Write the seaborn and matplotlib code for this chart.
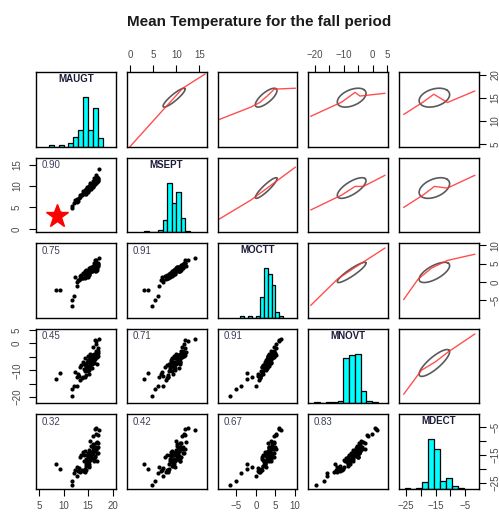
import numpy as np
import pandas as pd
import seaborn as sns
import matplotlib.pyplot as plt

variables = ['MAUGT', 'MSEPT', 'MOCTT', 'MNOVT', 'MDECT']

# monthly mean temperatures (one value per year)
maugt = [14.2, 14.5, 14.8, 15.1, 15.4, 15.8, 16.1, 16.4, 16.7, 16.9,
         13.6, 13.9, 14.0, 14.3, 14.6, 14.7, 14.9, 15.0, 15.2, 15.3,
         15.5, 15.6, 15.7, 15.9, 16.0, 16.2, 16.3, 16.5, 16.6, 16.8,
         17.0, 14.4, 14.1, 13.8, 13.4, 13.1, 12.8, 14.6, 14.8, 15.0,
         15.1, 15.2, 15.4, 15.5, 15.6, 15.8, 16.0, 16.1, 16.3, 16.4,
         16.6, 16.7, 16.9, 17.1, 14.3, 14.5, 14.9, 15.3, 15.7, 15.9,
         16.2, 16.5, 15.1, 14.7, 15.6, 16.0, 13.3, 12.9, 16.8, 16.2,
         16.6, 15.4, 15.9, 8.4, 9.3, 11.8, 12.1, 11.7, 12.7, 12.3,
         17.3, 16.4]
msept = [8.6, 9.0, 9.3, 9.7, 10.0, 10.4, 10.8, 11.0, 11.3, 11.5,
         8.0, 8.3, 8.9, 8.4, 9.4, 8.8, 9.1, 9.5, 9.2, 10.2,
         9.6, 10.3, 9.9, 10.6, 10.1, 10.9, 10.5, 11.2, 10.7, 11.4,
         11.1, 8.2, 8.7, 7.9, 7.5, 7.2, 7.0, 8.5, 9.8, 8.9,
         10.0, 9.6, 9.3, 10.4, 9.4, 10.0, 10.8, 10.2, 11.0, 10.6,
         11.6, 10.9, 11.9, 11.7, 9.1, 8.1, 8.7, 9.9, 10.5, 9.8,
         10.4, 11.5, 9.4, 9.2, 10.1, 10.6, 7.8, 6.6, 12.2, 11.8,
         12.5, 10.7, 11.2, 3.0, 3.8, 4.8, 6.0, 5.3, 6.2, 6.8,
         14.0, 11.8]
moctt = [2.4, 1.7, 2.8, 2.6, 3.9, 3.4, 3.4, 4.5, 3.7, 4.8,
         1.9, 1.1, 2.4, 1.4, 3.3, 2.0, 1.9, 3.1, 1.8, 3.7,
         3.3, 2.9, 3.3, 3.4, 4.0, 3.9, 3.1, 4.7, 3.1, 4.7,
         4.7, 1.0, 2.2, 1.0, 1.6, 0.6, 0.0, 2.2, 2.3, 2.5,
         3.7, 2.2, 2.8, 3.2, 3.3, 3.1, 3.4, 3.8, 3.4, 4.0,
         5.1, 3.4, 5.1, 4.4, 3.1, 1.4, 1.5, 3.5, 2.9, 3.3,
         4.0, 3.9, 2.8, 2.2, 4.0, 3.6, 0.7, 0.5, 4.5, 5.1,
         5.9, 3.2, 4.5, -2.3, -2.2, -6.5, -3.9, -5.0, -1.0, 1.5,
         6.5, 6.0]
mnovt = [-9.6, -8.4, -7.1, -9.9, -3.9, -6.7, -4.0, -5.1, -5.1, -3.7,
         -8.2, -12.6, -6.8, -10.3, -8.3, -8.3, -10.1, -4.7, -11.3, -5.1,
         -7.1, -5.9, -7.5, -4.5, -4.3, -6.9, -5.8, -3.7, -4.7, -4.6,
         -2.8, -12.4, -7.5, -12.8, -8.6, -12.1, -15.9, -7.8, -9.2, -6.1,
         -6.9, -8.5, -8.3, -5.2, -7.5, -5.2, -5.7, -7.2, -5.1, -5.3,
         -0.1, -7.6, -1.9, -4.6, -5.5, -11.9, -8.9, -5.5, -9.2, -5.3,
         -5.3, -2.8, -9.0, -8.5, -5.5, -4.3, -13.5, -11.2, -3.2, -4.2,
         0.7, -7.1, -1.5, -13.1, -11.0, -19.7, -16.0, -17.0, -12.5, -10.5,
         1.5, 1.1]
mdect = [-17.0, -18.9, -15.0, -19.5, -9.9, -16.4, -12.0, -15.8, -12.4, -12.2,
         -15.1, -20.8, -13.9, -19.9, -16.3, -17.7, -16.7, -14.2, -19.1, -15.8,
         -14.6, -14.6, -14.4, -13.4, -11.1, -17.3, -13.6, -12.7, -10.8, -14.1,
         -10.7, -21.0, -15.1, -20.4, -15.6, -19.8, -22.6, -18.3, -17.3, -15.3,
         -13.2, -18.4, -16.7, -15.9, -15.1, -13.8, -12.4, -16.3, -12.0, -15.5,
         -7.3, -17.0, -7.7, -14.1, -13.7, -20.6, -16.6, -14.2, -16.2, -14.2,
         -12.2, -12.8, -17.1, -18.0, -11.7, -13.7, -21.2, -20.9, -10.3, -12.7,
         -5.3, -16.2, -8.1, -18.2, -20.0, -25.8, -21.6, -24.5, -19.4, -20.3,
         -6.0, -5.5]

temps = pd.DataFrame({'MAUGT': maugt, 'MSEPT': msept, 'MOCTT': moctt,
                      'MNOVT': mnovt, 'MDECT': mdect})

# histogram bins / counts
hist_edges = {
    'MAUGT': [7, 8, 9, 10, 11, 12, 13, 14, 15, 16, 17, 18],
    'MSEPT': [3, 4, 5, 6, 7, 8, 9, 10, 11, 12, 13],
    'MOCTT': [-4, -3, -2, -1, 0, 1, 2, 3, 4, 5, 6, 7],
    'MNOVT': [-20.2, -18.2, -16.2, -14.2, -12.2, -10.2, -8.2, -6.2, -4.2, -2.2, -0.2, 1.8],
    'MDECT': [-25.5, -23.5, -21.5, -19.5, -17.5, -15.5, -13.5, -11.5, -9.5, -7.5, -5.5],
}
hist_counts = {
    'MAUGT': [1, 0, 1, 0, 3, 7, 12, 36, 12, 28, 6],
    'MSEPT': [1, 0, 0, 2, 9, 36, 21, 29, 10, 1],
    'MOCTT': [1, 0, 1, 0, 1, 15, 36, 32, 24, 4, 1],
    'MNOVT': [1, 0, 1, 1, 2, 33, 35, 36, 9, 2, 1],
    'MDECT': [1, 0, 1, 5, 36, 29, 6, 8, 2, 1],
}

# correlations printed in the lower panels
corr_values = {(1, 0): 0.90, (2, 0): 0.75, (2, 1): 0.91,
               (3, 0): 0.45, (3, 1): 0.71, (3, 2): 0.91,
               (4, 0): 0.32, (4, 1): 0.42, (4, 2): 0.67, (4, 3): 0.83}

# smoothed fit lines in the upper panels (x = column var, y = row var)
smooth_lines = {
    (0, 1): ([-0.2, 7.4, 9.5, 11.4, 16.3], [4.3, 12.7, 15.0, 17.1, 20.2]),
    (0, 2): ([-9.7, -1.3, 1.0, 3.0, 4.7, 10.1], [10.2, 13.0, 14.0, 15.5, 16.9, 17.1]),
    (0, 3): ([-21.5, -10.7, -6.1, -4.4, 4.3], [11.0, 14.1, 16.2, 15.4, 16.0]),
    (0, 4): ([-25.8, -19.2, -15.6, -11.0, -1.7], [11.4, 14.1, 15.8, 14.0, 16.5]),
    (1, 2): ([-9.7, -1.3, 3.0, 10.1], [2.1, 6.7, 9.6, 14.4]),
    (1, 3): ([-21.5, -10.7, -6.1, -3.2, 4.3], [4.4, 7.9, 9.9, 9.9, 12.5]),
    (1, 4): ([-25.8, -19.2, -15.4, -11.0, -1.7], [5.0, 7.9, 9.9, 9.5, 12.5]),
    (2, 3): ([-21.5, -12.2, -6.5, 4.3], [-6.4, 0.8, 3.8, 9.3]),
    (2, 4): ([-25.8, -20.9, -16.4, -11.0, -1.7], [-4.8, 0.8, 3.8, 5.9, 7.6]),
    (3, 4): ([-25.8, -19.8, -15.0, -10.5, -1.7], [-18.9, -10.0, -6.8, -3.0, 3.5]),
}

limits = {'MAUGT': (4.4, 20.6), 'MSEPT': (-0.8, 16.6), 'MOCTT': (-9.8, 10.6),
          'MNOVT': (-22.3, 5.4), 'MDECT': (-27.3, -0.3)}

M = '\u2212'
axis_ticks = {
    'MAUGT': ([5, 10, 15, 20], ['5', '10', '15', '20']),
    'MSEPT': ([0, 5, 10, 15], ['0', '5', '10', '15']),
    'MOCTT': ([-5, 0, 5, 10], [M + '5', '0', '5', '10']),
    'MNOVT': ([-20, -15, -10, -5, 0, 5], [M + '20', '', M + '10', '', '0', '5']),
    'MDECT': ([-25, -20, -15, -10, -5], [M + '25', '', M + '15', '', M + '5']),
}

star_point = (8.6, 3.0)

sns.set_theme(style='white')
plt.rcParams['font.family'] = ['Liberation Sans', 'DejaVu Sans']

tick_color = '#4a4a4a'


def ellipse(x, y, r, k=1.25):
    # correlation ellipse around the means, r taken from the panel label
    x = np.asarray(x)
    y = np.asarray(y)
    d = np.arccos(r)
    th = np.linspace(0, 2 * np.pi, 120)
    ex = x.mean() + k * x.std(ddof=1) * np.cos(th + d / 2)
    ey = y.mean() + k * y.std(ddof=1) * np.cos(th - d / 2)
    return ex, ey


def style_ticks(axis_obj, var, rotate=False):
    ticks, labels = axis_ticks[var]
    axis_obj.set_ticks(ticks)
    axis_obj.set_ticklabels(labels)
    for lab in axis_obj.get_ticklabels():
        lab.set_fontsize(7)
        lab.set_color(tick_color)
        if rotate:
            lab.set_rotation(90)
            lab.set_va('center')


fig, axes = plt.subplots(5, 5, figsize=(4.99, 5.15), dpi=100)
fig.subplots_adjust(left=0.072, right=0.960, top=0.860, bottom=0.0505,
                    wspace=0.138, hspace=0.147)

for i, vy in enumerate(variables):
    for j, vx in enumerate(variables):
        ax = axes[i, j]
        ax.set_facecolor('white')
        for sp in ax.spines.values():
            sp.set_visible(True)
            sp.set_color('black')
            sp.set_linewidth(1.0)

        if i == j:
            edges = hist_edges[vx]
            counts = hist_counts[vx]
            widths = np.diff(edges)
            ax.bar(edges[:-1], counts, width=widths, align='edge',
                   color='#00ffff', edgecolor='black', linewidth=0.9)
            ax.set_ylim(0, 1.5 * max(counts))
            ax.text(0.5, 0.905, vx, transform=ax.transAxes, ha='center', va='center',
                    fontsize=7, fontweight='bold', color='#1c1c3a')
        elif i > j:
            sns.scatterplot(x=temps[vx], y=temps[vy], ax=ax, color='black', s=9,
                            linewidth=0, legend=False)
            ax.set_ylim(limits[vy])
            ax.text(0.07, 0.9, f'{corr_values[(i, j)]:.2f}', transform=ax.transAxes,
                    ha='left', va='center', fontsize=7, color='#3c4058')
        else:
            ex, ey = ellipse(temps[vx], temps[vy], corr_values[(j, i)])
            ax.plot(ex, ey, color='#5a5a5a', lw=1.2)
            lx, ly = smooth_lines[(i, j)]
            ax.plot(lx, ly, color='#ff3030', lw=1.0, alpha=0.85)
            ax.set_ylim(limits[vy])

        ax.set_xlim(limits[vx])
        ax.set_xlabel('')
        ax.set_ylabel('')
        ax.set_xticks([])
        ax.set_yticks([])

        # alternating R-style axes
        if i == 0 and j in (1, 3):
            ax.xaxis.tick_top()
            style_ticks(ax.xaxis, vx)
            ax.tick_params(axis='x', top=True, bottom=False, length=5, width=0.8,
                           color='black', pad=4)
        if i == 4 and j in (0, 2, 4):
            style_ticks(ax.xaxis, vx)
            ax.tick_params(axis='x', bottom=True, length=5, width=0.8,
                           color='black', pad=4)
        if j == 0 and i in (1, 3):
            style_ticks(ax.yaxis, vy, rotate=True)
            ax.tick_params(axis='y', left=True, length=5, width=0.8,
                           color='black', pad=5)
        if j == 4 and i in (0, 2):
            ax.yaxis.tick_right()
            style_ticks(ax.yaxis, vy, rotate=True)
            ax.tick_params(axis='y', right=True, left=False, length=5, width=0.8,
                           color='black', pad=3)

# last diagonal panel also carries the right-hand MDECT axis
ax_r = axes[4, 4].twinx()
ax_r.set_ylim(limits['MDECT'])
ax_r.grid(False)
for sp in ax_r.spines.values():
    sp.set_visible(False)
style_ticks(ax_r.yaxis, 'MDECT', rotate=True)
ax_r.tick_params(axis='y', right=True, length=5, width=0.8, color='black', pad=3)

axes[1, 0].plot(*star_point, marker='*', color='red', markersize=17, linestyle='none')

fig.text(0.519, 0.958, 'Mean Temperature for the fall period', ha='center', va='center',
         fontsize=11, fontweight='bold', color='#1a1a1a')

fig.savefig('out.png', dpi=100)
